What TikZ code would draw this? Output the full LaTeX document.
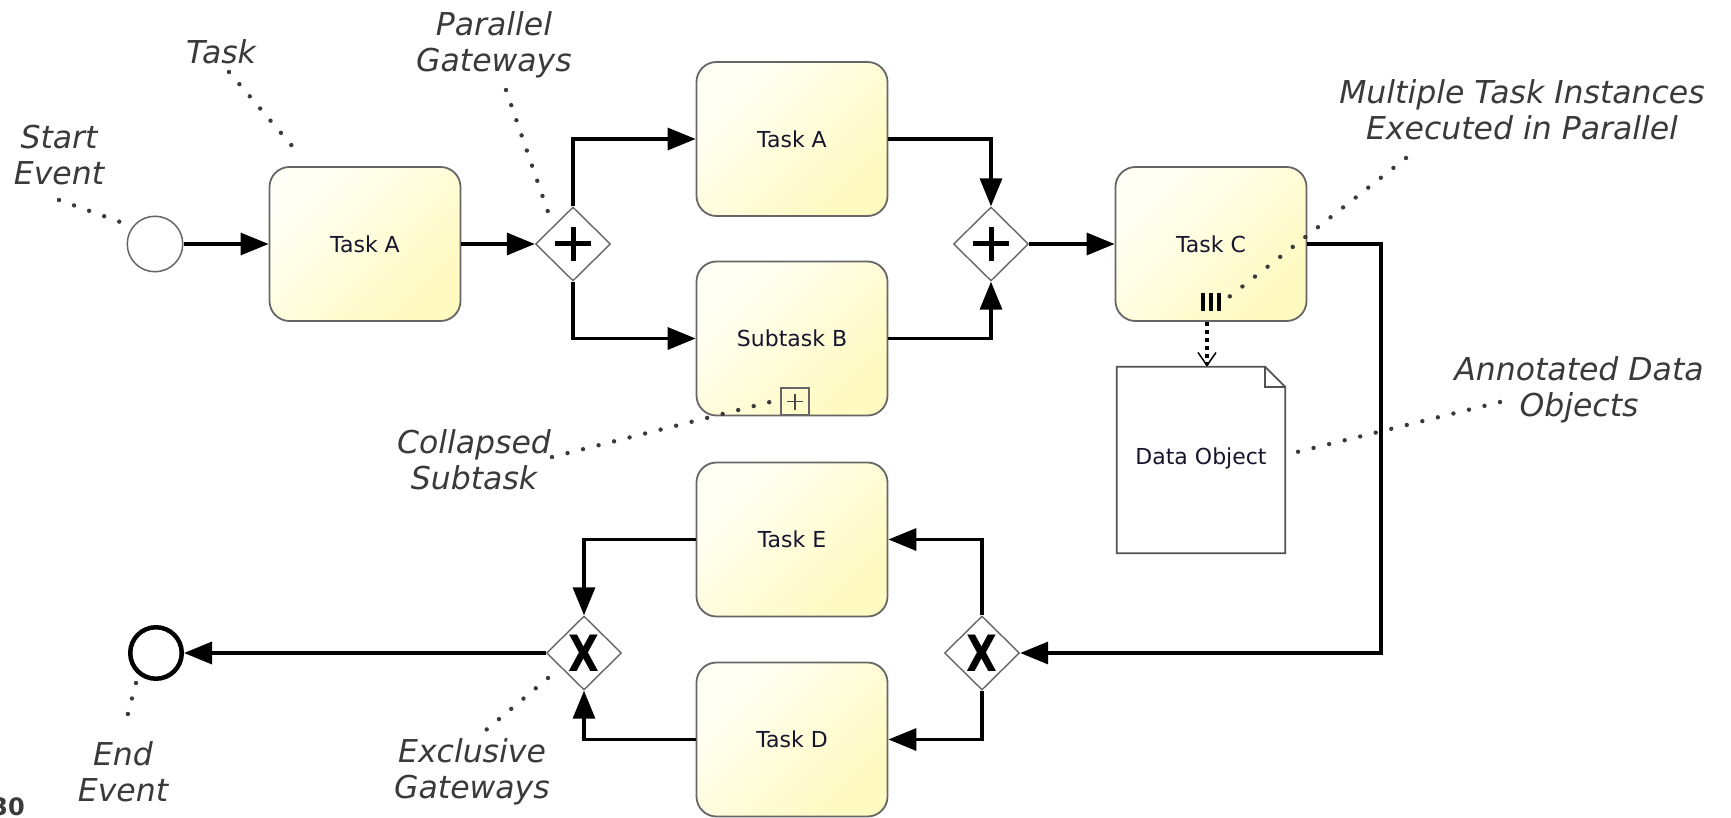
\documentclass[tikz,border=0pt]{standalone}
\usepackage{fontspec}
\setmainfont{DejaVu Sans}
\usetikzlibrary{shapes.geometric,arrows.meta,calc}
\definecolor{annot}{HTML}{3A3A3A}
\definecolor{tasktxt}{HTML}{15152E}
\definecolor{taskfill}{HTML}{FFFAC0}
\definecolor{taskwhite}{HTML}{FFFFF6}
\definecolor{border}{HTML}{666666}
\begin{document}
\begin{tikzpicture}[x=1pt,y=-1pt,
  task/.style={rectangle, rounded corners=20pt, minimum width=191pt, minimum height=154pt,
    draw=border, line width=1.8pt, top color=taskwhite, bottom color=taskfill, shading angle=45,
    text=tasktxt, font=\fontsize{22}{26}\selectfont, inner sep=0pt},
  gw/.style={diamond, draw=border, fill=white, line width=1.4pt, minimum width=75pt,
    minimum height=74pt, inner sep=0pt},
  pgw/.style={gw, path picture={
      \draw[line width=5pt,black] ([xshift=-18pt]path picture bounding box.center) -- ++(36,0);
      \draw[line width=5pt,black] ([yshift=-17pt]path picture bounding box.center) -- ++(0,-34);}},
  xmark/.style={inner sep=0pt, font=\bfseries\fontsize{50}{50}\selectfont},
  startev/.style={circle, draw=border, fill=white, line width=1.5pt, minimum size=55.5pt, inner sep=0pt},
  endev/.style={circle, draw=black, fill=white, line width=4.5pt, minimum size=51.5pt, inner sep=0pt},
  dataobj/.style={rectangle, minimum width=168pt, minimum height=186pt, inner sep=0pt,
    text=tasktxt, font=\fontsize{22}{26}\selectfont},
  docline/.style={draw=border!80!black, line width=1.8pt, fill=white, line join=miter},
  collapsed/.style={rectangle, draw=border, line width=1.4pt, minimum width=28pt, minimum height=27pt,
    inner sep=0pt, path picture={
      \draw[line width=1.3pt,border!70!black] ([xshift=-8pt]path picture bounding box.center) -- ++(16,0);
      \draw[line width=1.3pt,border!70!black] ([yshift=-8pt]path picture bounding box.center) -- ++(0,-16);}},
  flow/.style={draw=black, line width=3.4pt, -{Triangle[length=28pt,width=22pt]}},
  assoc/.style={draw=black, line width=3.2pt, dash pattern=on 4pt off 4pt,
    -{Straight Barb[length=13pt,width=18pt,line width=1.5pt]}},
  annot/.style={align=center, inner sep=0pt, text=annot, font=\itshape\fontsize{31.5}{36}\selectfont},
  lead/.style={draw=annot, line width=4.4pt, line cap=round, dash pattern=on 0pt off 16pt}
]
\useasboundingbox (0,0) rectangle (1731,818);

% ---- main nodes
\node[startev] (start) at (155,244) {};
\node[task] (ta1) at (365,244) {Task A};
\node[pgw] (pg1) at (573,244) {};
\node[task] (ta2) at (792,139) {Task A};
\node[task] (sb) at (792,338.5) {Subtask B};
\node[pgw] (pg2) at (991,244) {};
\node[task] (tc) at (1211,244) {Task C};
\node[dataobj] (do) at (1201,460) {};
\node[gw] (xg2) at (982,653) {};
\node[task] (te) at (792,539.5) {Task E};
\node[task] (td) at (792,739.5) {Task D};
\node[gw] (xg1) at (584,653) {};
\node[endev] (end) at (156,653) {};

% ---- gateway X marks
\node[xmark] (xm1) at (xg1) {\scalebox{0.8}[1]{X}};
\node[xmark] (xm2) at (xg2) {\scalebox{0.8}[1]{X}};

% ---- data object
\path[docline] (do.south west) -- (do.north west) -- ([xshift=-20pt]do.north east)
  -- ([yshift=-20pt]do.north east) -- (do.south east) -- cycle;
\draw[docline, fill=none] ([xshift=-20pt]do.north east) -- ([xshift=-20pt,yshift=-20pt]do.north east)
  -- ([yshift=-20pt]do.north east);
\node[text=tasktxt, font=\fontsize{22}{26}\selectfont, inner sep=0pt] (dotext) at ([yshift=2pt]do.center) {Data Object};

% ---- collapsed subtask marker
\node[collapsed] (cm) at (795,401.5) {};

% ---- multi instance marker
\foreach \dx in {-8,0,8}
  \draw[line width=4pt, black] ([xshift=\dx pt, yshift=11pt]tc.south) -- ++(0,-18);

% ---- sequence flows
\draw[flow] (start) -- (ta1);
\draw[flow] (ta1) -- (pg1);
\draw[flow] (pg1.north) |- (ta2.west);
\draw[flow] (pg1.south) |- (sb.west);
\draw[flow] (ta2.east) -| (pg2.north);
\draw[flow] (sb.east) -| (pg2.south);
\draw[flow] (pg2) -- (tc);
\coordinate (c1) at (1381,653);
\draw[flow] (tc.east) -| (c1) -- (xg2.east);
\draw[flow] (xg2.north) |- (te.east);
\draw[flow] (xg2.south) |- (td.east);
\draw[flow] (te.west) -| (xg1.north);
\draw[flow] (td.west) -| (xg1.south);
\draw[flow] (xg1) -- (end);

% ---- data association
\draw[assoc] ([xshift=-4pt]tc.south) -- ([xshift=-4pt]tc.south |- do.north);

% ---- annotations
\node[annot] (lstart) at (59,155) {Start\\Event};
\node[annot] (ltask) at (221,52) {Task};
\node[annot] (lpar) at (494,45) {Parallel\\Gateways};
\node[annot] (lmult) at (1522,110) {Multiple Task Instances\\Executed in Parallel};
\node[annot] (lann) at (1579,390) {Annotated Data\\Objects};
\node[annot] (lcol) at (474,460) {Collapsed\\Subtask};
\node[annot] (lend) at (123,772) {End\\Event};
\node[annot] (lexc) at (472,772) {Exclusive\\Gateways};

% ---- leader lines
\coordinate (s1) at (59,200);   \coordinate (s2) at (123,223);
\coordinate (t1) at (229,72);   \coordinate (t2) at (293,147);
\coordinate (p1) at (506,90);   \coordinate (p2) at (548,212);
\coordinate (m1) at (1406,158); \coordinate (m2) at (1229,297);
\coordinate (a1) at (1500,402); \coordinate (a2) at (1297,452);
\coordinate (k1) at (552,457);  \coordinate (k2) at (770,402);
\coordinate (e1) at (136,683);  \coordinate (e2) at (125,725);
\coordinate (x1) at (548,678);  \coordinate (x2) at (486,730);
\draw[lead] (s1) -- (s2);
\draw[lead] (t1) -- (t2);
\draw[lead] (p1) -- (p2);
\draw[lead] (m1) -- (m2);
\draw[lead] (a1) -- (a2);
\draw[lead] (k1) -- (k2);
\draw[lead] (e1) -- (e2);
\draw[lead] (x1) -- (x2);

% ---- page number fragment
\node[anchor=east, inner sep=0pt, text=annot, font=\bfseries\fontsize{24}{24}\selectfont] (pgno) at (25,807) {30};
\end{tikzpicture}
\end{document}
